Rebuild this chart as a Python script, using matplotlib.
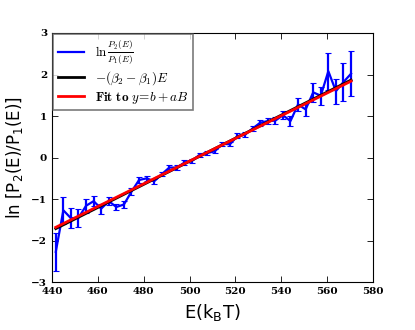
import numpy as np
import matplotlib
matplotlib.use('Agg')
import matplotlib.pyplot as plt

# energies (k_B T) and log ratio with error bars
E = [441.7, 445.0, 448.3, 451.6, 454.9, 458.2, 461.5, 464.8, 468.1, 471.4,
     474.7, 478.0, 481.3, 484.6, 487.9, 491.2, 494.5, 497.8, 501.1, 504.4,
     507.7, 511.0, 514.3, 517.6, 520.9, 524.2, 527.5, 530.8, 534.1, 537.4,
     540.7, 544.0, 547.3, 550.6, 553.9, 557.2, 560.5, 563.8, 567.1, 570.4]
lnratio = [-2.27, -1.27, -1.46, -1.45, -1.16, -1.05, -1.23, -1.05, -1.19, -1.13,
           -0.82, -0.54, -0.50, -0.57, -0.40, -0.24, -0.24, -0.12, -0.08, 0.07,
           0.11, 0.15, 0.33, 0.32, 0.52, 0.55, 0.70, 0.84, 0.88, 0.89,
           1.02, 0.88, 1.28, 1.16, 1.57, 1.49, 2.08, 1.60, 1.82, 2.02]
err = [0.46, 0.33, 0.24, 0.21, 0.17, 0.12, 0.12, 0.10, 0.08, 0.08,
       0.08, 0.07, 0.06, 0.06, 0.05, 0.05, 0.05, 0.05, 0.05, 0.05,
       0.05, 0.05, 0.05, 0.05, 0.06, 0.06, 0.07, 0.07, 0.08, 0.09,
       0.10, 0.13, 0.16, 0.15, 0.22, 0.22, 0.45, 0.30, 0.46, 0.54]

# fit y = b + a*E and the theoretical -(beta2-beta1)E line
fit_a, fit_b = 0.02735, -13.76
beta_diff, beta_off = -0.0278, -13.99

E = np.array(E)

fig = plt.figure(figsize=(4.15, 3.3), dpi=100)
ax = fig.add_axes([0.125, 0.145, 0.774, 0.755])

ax.errorbar(E, lnratio, yerr=err, fmt='none', ecolor='b', elinewidth=1.6,
            capsize=2.5, capthick=0.8)
ax.plot(E, lnratio, color='b', lw=1.6, label=r'$\ln\frac{P_2(E)}{P_1(E)}$')
ax.plot(E, beta_off - beta_diff * E, color='k', lw=2,
        label=r'$-(\beta_2-\beta_1)E$')
ax.plot(E, fit_b + fit_a * E, color='r', lw=2,
        label=r'$\mathbf{Fit\ to}\ y\!=\!b+aB$')

ax.set_xlim(440, 580)
ax.set_ylim(-3, 3)
ax.set_xticks(range(440, 581, 20))
ax.set_yticks(range(-3, 4))
ax.tick_params(direction='in', top=True, right=True, length=4, width=0.6)
for lab in ax.get_xticklabels() + ax.get_yticklabels():
    lab.set_family('DejaVu Serif')
    lab.set_fontweight('bold')
    lab.set_fontsize(7.5)
for s in ax.spines.values():
    s.set_linewidth(0.8)

ax.set_xlabel(r'E(k$_\mathregular{B}$T)', fontsize=13)
ax.set_ylabel(r'ln [P$_\mathregular{2}$(E)/P$_\mathregular{1}$(E)]', fontsize=12)

leg = ax.legend(loc='upper left', borderaxespad=0.1, fancybox=False,
                prop=dict(size=9.5, math_fontfamily='cm', family='DejaVu Serif'),
                handlelength=2.0, labelspacing=0.2, borderpad=0.35)
leg.get_frame().set_edgecolor('0.35')
leg.get_frame().set_linewidth(1.2)

fig.savefig('out.png', dpi=100)
